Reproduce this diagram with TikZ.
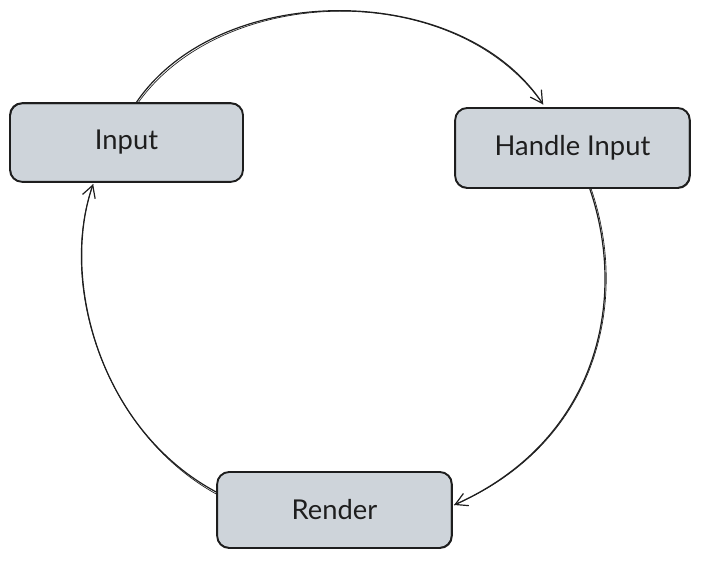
\documentclass[tikz,border=0pt]{standalone}
\usepackage{fontspec}
\setmainfont{Lato}
\usetikzlibrary{arrows.meta}
\definecolor{boxfill}{HTML}{CED4DA}
\definecolor{ink}{HTML}{1E1E1E}
\tikzset{
  box/.style={draw=ink, fill=boxfill, line width=1.4pt, rounded corners=9pt,
    minimum width=174pt, minimum height=58pt, font=\fontsize{20.5}{24}\selectfont, text=ink},
  sketch/.style={draw=ink, line width=0.5pt, rounded corners=9pt},
  conn/.style={draw=ink, line width=0.9pt, -{Straight Barb[length=9pt,width=10pt,line width=0.9pt]}},
  conn2/.style={draw=ink, line width=0.5pt},
}
\begin{document}
\begin{tikzpicture}[x=0.75pt,y=-0.75pt]
\useasboundingbox (0,0) rectangle (701,562);
\node[box, minimum width=174.75pt, minimum height=59pt] (inp) at (126.5,142.5) {Input};
\node[box, minimum width=176pt, minimum height=60pt] (hdl) at (572.5,148) {Handle Input};
\node[box, minimum width=176pt, minimum height=57pt] (rnd) at (334.5,510) {Render};
% sketchy second outlines
\draw[sketch] ([shift={(1.5,-1)}]inp.south west) rectangle ([shift={(-1,1.5)}]inp.north east);
\draw[sketch] ([shift={(1,-1.5)}]hdl.south west) rectangle ([shift={(-1.5,1)}]hdl.north east);
\draw[sketch] ([shift={(1,-1.5)}]rnd.south west) rectangle ([shift={(-1.5,1)}]rnd.north east);
% connectors
\draw[conn] ([xshift=7.5pt]inp.north) .. controls (220,-20) and (460,-20) .. ([xshift=-22pt,yshift=2pt]hdl.north);
\draw[conn2] ([xshift=9pt]inp.north) .. controls (224,-17) and (455,-22) .. ([xshift=-22pt,yshift=2pt]hdl.north);
\draw[conn] ([xshift=13pt]hdl.south) .. controls (628,300) and (598,440) .. ([yshift=3.75pt,xshift=1pt]rnd.east);
\draw[conn2] ([xshift=14pt]hdl.south) .. controls (631,305) and (594,445) .. ([yshift=3.75pt,xshift=1pt]rnd.east);
\draw[conn] ([yshift=13.5pt]rnd.west) .. controls (100,430) and (60,280) .. ([xshift=-25pt,yshift=-1pt]inp.south);
\draw[conn2] ([yshift=12pt]rnd.west) .. controls (104,432) and (57,283) .. ([xshift=-25pt,yshift=-1pt]inp.south);
\end{tikzpicture}
\end{document}
